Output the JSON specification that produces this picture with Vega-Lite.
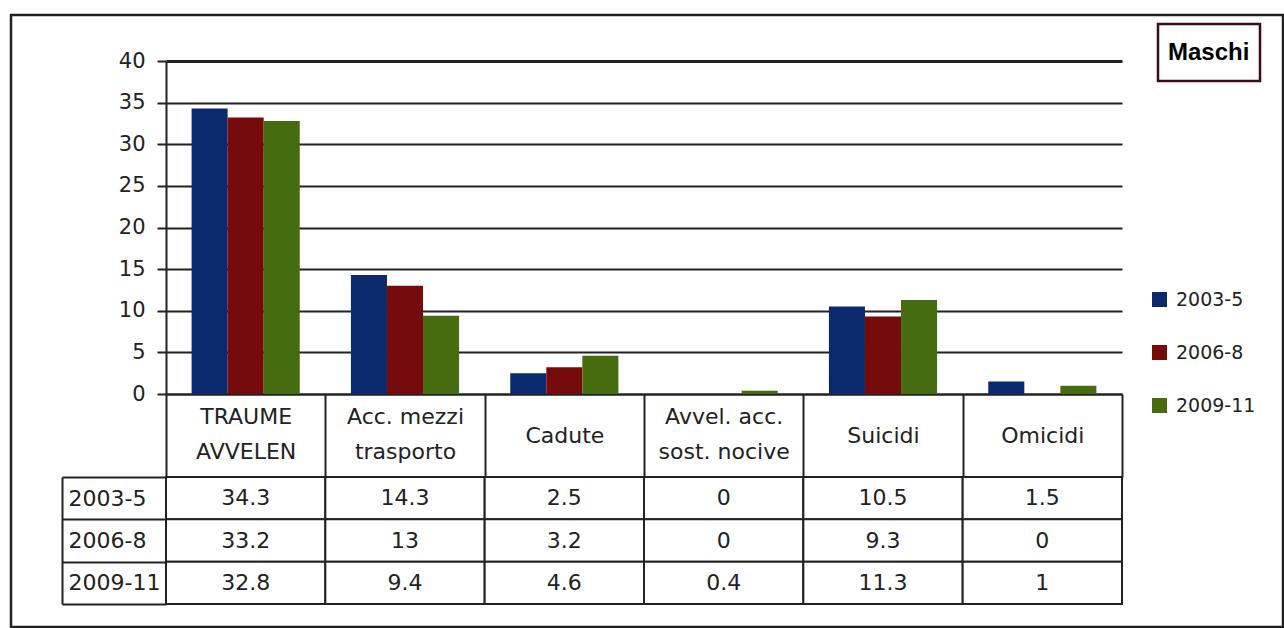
{
  "$schema": "https://vega.github.io/schema/vega-lite/v6.json",
  "padding": {"left": 9, "top": 13, "right": 0, "bottom": 0},
  "background": "white",
  "config": {
    "view": {"stroke": null},
    "font": "DejaVu Sans",
    "legend": {"strokeWidth": 2.5}
  },
  "datasets": {
    "rows": [
      {"categoria": "TRAUME AVVELEN", "periodo": "2003-5", "valore": 34.3},
      {"categoria": "TRAUME AVVELEN", "periodo": "2006-8", "valore": 33.2},
      {"categoria": "TRAUME AVVELEN", "periodo": "2009-11", "valore": 32.8},
      {"categoria": "Acc. mezzi trasporto", "periodo": "2003-5", "valore": 14.3},
      {"categoria": "Acc. mezzi trasporto", "periodo": "2006-8", "valore": 13},
      {"categoria": "Acc. mezzi trasporto", "periodo": "2009-11", "valore": 9.4},
      {"categoria": "Cadute", "periodo": "2003-5", "valore": 2.5},
      {"categoria": "Cadute", "periodo": "2006-8", "valore": 3.2},
      {"categoria": "Cadute", "periodo": "2009-11", "valore": 4.6},
      {"categoria": "Avvel. acc. sost. nocive", "periodo": "2003-5", "valore": 0},
      {"categoria": "Avvel. acc. sost. nocive", "periodo": "2006-8", "valore": 0},
      {"categoria": "Avvel. acc. sost. nocive", "periodo": "2009-11", "valore": 0.4},
      {"categoria": "Suicidi", "periodo": "2003-5", "valore": 10.5},
      {"categoria": "Suicidi", "periodo": "2006-8", "valore": 9.3},
      {"categoria": "Suicidi", "periodo": "2009-11", "valore": 11.3},
      {"categoria": "Omicidi", "periodo": "2003-5", "valore": 1.5},
      {"categoria": "Omicidi", "periodo": "2006-8", "valore": 0},
      {"categoria": "Omicidi", "periodo": "2009-11", "valore": 1}
    ],
    "sesso": [{"sesso": "Maschi"}],
    "cornice": [{"v": 0}, {"v": 1}]
  },
  "resolve": {
    "scale": {"color": "independent", "shape": "independent", "fill": "independent", "x": "independent", "y": "independent"},
    "legend": {"color": "independent", "shape": "independent", "fill": "independent"}
  },
  "bounds": "flush",
  "spacing": 83,
  "vconcat": [
    {
      "width": 956,
      "height": 333,
      "layer": [
        {
          "data": {"name": "rows"},
          "mark": {"type": "bar"},
          "encoding": {
            "x": {
              "field": "categoria",
              "type": "nominal",
              "sort": null,
              "scale": {"domain": ["TRAUME AVVELEN", "Acc. mezzi trasporto", "Cadute", "Avvel. acc. sost. nocive", "Suicidi", "Omicidi"], "padding": 0},
              "axis": {
                "title": null,
                "labelAngle": 0,
                "labelExpr": "{'TRAUME AVVELEN': ['TRAUME', 'AVVELEN'], 'Acc. mezzi trasporto': ['Acc. mezzi', 'trasporto'], 'Avvel. acc. sost. nocive': ['Avvel. acc.', 'sost. nocive']}[datum.label] || datum.label",
                "labelFontSize": 22,
                "labelColor": "#222222",
                "labelLineHeight": 35,
                "labelBaseline": {"condition": {"test": "indexof(['TRAUME AVVELEN', 'Acc. mezzi trasporto', 'Avvel. acc. sost. nocive'], datum.value) >= 0", "value": "line-top"}, "value": "middle"},
                "labelPadding": {"condition": {"test": "indexof(['TRAUME AVVELEN', 'Acc. mezzi trasporto', 'Avvel. acc. sost. nocive'], datum.value) >= 0", "value": -78}, "value": -42},
                "labelLimit": 200,
                "tickBand": "extent",
                "tickSize": 83,
                "tickWidth": 2,
                "tickColor": "#222222",
                "domainColor": "#222222",
                "domainWidth": 2,
                "grid": false
              }
            },
            "xOffset": {
              "field": "periodo",
              "type": "nominal",
              "sort": ["2003-5", "2006-8", "2009-11"],
              "scale": {"paddingInner": 0, "paddingOuter": 0.71}
            },
            "y": {
              "field": "valore",
              "type": "quantitative",
              "scale": {"domain": [0, 40], "nice": false},
              "axis": {
                "title": null,
                "values": [0, 5, 10, 15, 20, 25, 30, 35, 40],
                "labelFontSize": 21,
                "labelColor": "#222222",
                "labelPadding": 12,
                "tickSize": 9,
                "tickColor": "#222222",
                "tickWidth": 2,
                "domainColor": "#222222",
                "domainWidth": 2,
                "grid": true,
                "gridColor": "#222222",
                "gridOpacity": 1,
                "gridWidth": {"condition": {"test": "datum.value == 40", "value": 3}, "value": 2},
                "minExtent": 104,
                "maxExtent": 104
              }
            },
            "color": {
              "field": "periodo",
              "type": "nominal",
              "sort": ["2003-5", "2006-8", "2009-11"],
              "scale": {"domain": ["2003-5", "2006-8", "2009-11"], "range": ["#0b2a6e", "#760b0b", "#466c10"]},
              "legend": {
                "title": null,
                "orient": "none",
                "legendX": 984,
                "legendY": 229,
                "padding": 0,
                "symbolType": "square",
                "symbolSize": 225,
                "symbolStrokeWidth": 0,
                "symbolOpacity": 1,
                "labelFontSize": 19,
                "labelColor": "#222222",
                "labelOffset": 7,
                "rowPadding": 33
              }
            }
          }
        },
        {
          "data": {"name": "sesso"},
          "mark": {"type": "point", "opacity": 0},
          "encoding": {
            "shape": {
              "field": "sesso",
              "type": "nominal",
              "legend": {
                "title": null,
                "orient": "none",
                "legendX": 992,
                "legendY": -37,
                "padding": 10,
                "strokeColor": "#3c0a1c",
                "fillColor": "white",
                "symbolSize": 1369,
                "symbolOpacity": 0,
                "symbolStrokeWidth": 0,
                "labelOffset": -37,
                "labelFont": "Liberation Sans",
                "labelFontWeight": "bold",
                "labelFontSize": 24,
                "labelColor": "#000000"
              }
            }
          }
        },
        {
          "data": {"name": "cornice"},
          "mark": {"type": "point", "opacity": 0},
          "encoding": {
            "fill": {
              "field": "v",
              "type": "quantitative",
              "legend": {
                "title": null,
                "orient": "none",
                "direction": "horizontal",
                "legendX": -155,
                "legendY": -46,
                "padding": 0,
                "strokeColor": "#222222",
                "gradientLength": 1272,
                "gradientThickness": 611,
                "gradientOpacity": 0,
                "gradientStrokeWidth": 0,
                "labelExpr": "''",
                "labelFontSize": 1,
                "labelOffset": 0,
                "labelOpacity": 0
              }
            }
          }
        }
      ]
    },
    {
      "width": 956,
      "height": 127,
      "data": {"name": "rows"},
      "resolve": {"axis": {"y": "independent"}},
      "layer": [
        {
          "mark": {"type": "rect", "fill": "white", "stroke": "#222222", "strokeWidth": 2},
          "encoding": {
            "x": {"field": "categoria", "type": "nominal", "sort": null, "scale": {"domain": ["TRAUME AVVELEN", "Acc. mezzi trasporto", "Cadute", "Avvel. acc. sost. nocive", "Suicidi", "Omicidi"], "padding": 0}, "axis": null},
            "y": {
              "field": "periodo",
              "type": "nominal",
              "sort": ["2003-5", "2006-8", "2009-11"],
              "scale": {"padding": 0},
              "axis": {
                "orient": "left",
                "title": null,
                "labelAlign": "left",
                "labelBaseline": "middle",
                "labelPadding": -6,
                "labelFontSize": 22,
                "labelColor": "#222222",
                "tickBand": "extent",
                "tickSize": 104,
                "tickWidth": 2,
                "tickColor": "#222222",
                "domain": false,
                "grid": false,
                "minExtent": 104,
                "maxExtent": 104
              }
            }
          }
        },
        {
          "mark": {"type": "text", "fontSize": 22, "color": "#222222"},
          "encoding": {
            "x": {"field": "categoria", "type": "nominal", "sort": null, "scale": {"domain": ["TRAUME AVVELEN", "Acc. mezzi trasporto", "Cadute", "Avvel. acc. sost. nocive", "Suicidi", "Omicidi"], "padding": 0}, "axis": null},
            "y": {
              "field": "periodo",
              "type": "nominal",
              "sort": ["2003-5", "2006-8", "2009-11"],
              "scale": {"padding": 0},
              "axis": {
                "orient": "left",
                "offset": 104,
                "title": null,
                "labels": false,
                "ticks": false,
                "domain": true,
                "domainWidth": 2,
                "domainColor": "#222222",
                "grid": false,
                "minExtent": 0,
                "maxExtent": 0
              }
            },
            "text": {"field": "valore", "type": "nominal"}
          }
        }
      ]
    }
  ]
}
